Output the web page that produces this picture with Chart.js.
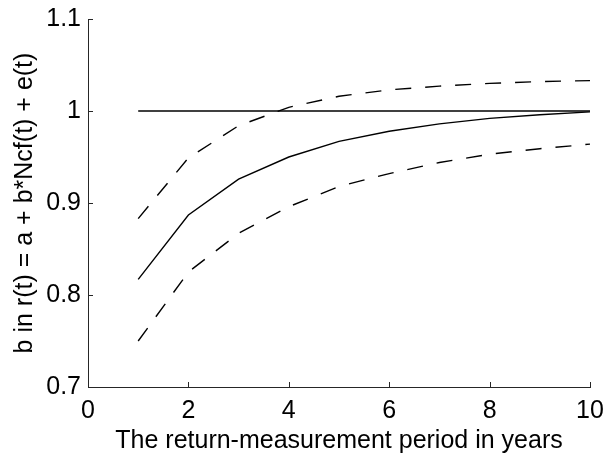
<!DOCTYPE html>
<html>
<head>
<meta charset="utf-8">
<script src="https://cdn.jsdelivr.net/npm/chart.js@4"></script>
<style>
  html, body { margin: 0; padding: 0; background: #fff; }
  #wrap { width: 609px; height: 461px; }
</style>
</head>
<body>
<div id="wrap"><canvas id="bChart"></canvas></div>
<script>
const years = [1, 2, 3, 4, 5, 6, 7, 8, 9, 10];
const bEstimate = [0.817, 0.887, 0.926, 0.950, 0.967, 0.978, 0.986, 0.992, 0.996, 0.999];
const upperBand = [0.883, 0.949, 0.984, 1.004, 1.016, 1.023, 1.027, 1.030, 1.032, 1.033];
const lowerBand = [0.750, 0.825, 0.867, 0.896, 0.918, 0.932, 0.944, 0.953, 0.959, 0.964];
const oneLine = [1, 1, 1, 1, 1, 1, 1, 1, 1, 1];
const xTicks = [0, 2, 4, 6, 8, 10];
const yTicks = [0.7, 0.8, 0.9, 1.0, 1.1];

const FONT = { family: 'Liberation Sans, Arial, sans-serif', size: 25 };

function pts(vals) {
    return years.map((x, i) => ({ x: x, y: vals[i] }));
}

function serie(vals, dash) {
    return {
        data: pts(vals),
        borderColor: '#000',
        borderWidth: 1.4,
        borderDash: dash,
        pointRadius: 0,
        tension: 0,
        fill: false
    };
}

// ticks pointing inward, matlab style
const innerTicks = {
    id: 'innerTicks',
    afterDraw(chart) {
        const c = chart.ctx;
        const xs = chart.scales.x, ys = chart.scales.y;
        c.save();
        c.strokeStyle = '#262626';
        c.lineWidth = 1;
        xTicks.forEach(v => {
            const px = Math.round(xs.getPixelForValue(v)) + 0.5;
            c.beginPath();
            c.moveTo(px, ys.bottom);
            c.lineTo(px, ys.bottom - 5);
            c.stroke();
        });
        yTicks.forEach(v => {
            const py = Math.round(ys.getPixelForValue(v)) + 0.5;
            c.beginPath();
            c.moveTo(xs.left, py);
            c.lineTo(xs.left + 5, py);
            c.stroke();
        });
        c.restore();
    }
};

const ctx = document.getElementById('bChart').getContext('2d');

new Chart(ctx, {
    type: 'line',
    data: {
        datasets: [
            serie(oneLine, []),
            serie(bEstimate, []),
            serie(upperBand, [16, 14]),
            serie(lowerBand, [16, 14])
        ]
    },
    options: {
        responsive: true,
        maintainAspectRatio: false,
        animation: false,
        devicePixelRatio: 1,
        layout: { padding: { left: 0, right: 19, top: 19, bottom: 0 } },
        plugins: {
            legend: { display: false },
            tooltip: { enabled: false }
        },
        scales: {
            x: {
                type: 'linear',
                min: 0,
                max: 10,
                afterBuildTicks: s => { s.ticks = xTicks.map(v => ({ value: v })); },
                afterFit: s => { s.height = 74; s.paddingLeft = 0; s.paddingRight = 0; },
                grid: { display: false, drawTicks: false },
                border: { display: true, color: '#262626', width: 1 },
                ticks: {
                    color: '#000',
                    padding: 9,
                    maxRotation: 0,
                    font: FONT
                },
                title: {
                    display: true,
                    text: 'The return-measurement period in years',
                    color: '#000',
                    padding: { top: 0, bottom: 5 },
                    font: FONT
                }
            },
            y: {
                min: 0.7,
                max: 1.1,
                afterBuildTicks: s => { s.ticks = yTicks.map(v => ({ value: v })); },
                afterFit: s => { s.width = 88; s.paddingTop = 0; s.paddingBottom = 0; },
                grid: { display: false, drawTicks: false },
                border: { display: true, color: '#262626', width: 1 },
                ticks: {
                    color: '#000',
                    padding: 7,
                    callback: v => (Math.round(v * 10) / 10).toString(),
                    font: FONT
                },
                title: {
                    display: true,
                    text: 'b in r(t) = a + b*Ncf(t) + e(t)',
                    color: '#000',
                    padding: { top: 10, bottom: 0 },
                    font: FONT
                }
            }
        }
    },
    plugins: [innerTicks]
});
</script>
</body>
</html>
